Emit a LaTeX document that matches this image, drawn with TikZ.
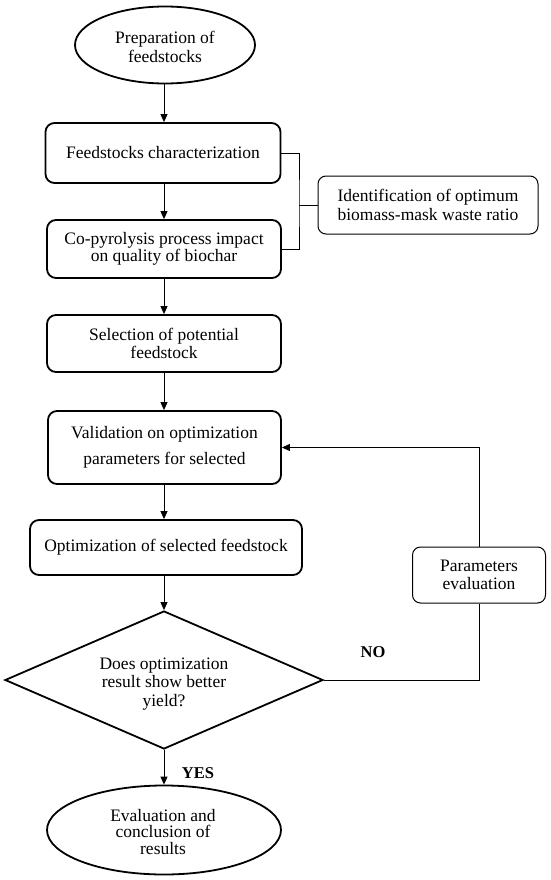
\documentclass[tikz,border=0pt]{standalone}
\usepackage{fontspec}
\setmainfont{Liberation Serif}
\usetikzlibrary{shapes.geometric,arrows.meta}
\begin{document}
\begin{tikzpicture}[x=1pt,y=-1pt,
  every node/.style={font=\fontsize{17.5}{18.5}\selectfont, align=center, inner sep=0pt},
  tight/.style={font=\fontsize{17.5}{16.5}\selectfont},
  wide/.style={font=\fontsize{17.5}{26}\selectfont},
  mainbox/.style={draw, line width=1.8pt, rounded corners=9pt, rectangle},
  sidebox/.style={draw, line width=1pt, rounded corners=8pt, rectangle},
  term/.style={draw, line width=1.8pt, ellipse},
  decide/.style={draw, line width=1.8pt, diamond, aspect=2.3},
  conn/.style={line width=0.9pt},
  arr/.style={conn, -{Triangle[length=8pt,width=7pt]}},
  lab/.style={font=\fontsize{16.5}{18}\selectfont\bfseries}]
\useasboundingbox (0,0) rectangle (550,880);
\node[term, minimum width=180pt, minimum height=77pt] (start) at (165,45) {};
\node at (165,47) {Preparation of\\feedstocks};
\node[mainbox, minimum width=235pt, minimum height=60pt] (char) at (163,153) {Feedstocks characterization};
\node[mainbox, tight, minimum width=234pt, minimum height=58pt] (copy) at (164,249) {Co-pyrolysis process impact\\on quality of biochar};
\node[sidebox, minimum width=220pt, minimum height=58pt] (ident) at (428,205) {Identification of optimum\\biomass-mask waste ratio};
\node[mainbox, minimum width=234pt, minimum height=57pt] (sel) at (164,343.5) {Selection of potential\\feedstock};
\node[mainbox, wide, minimum width=233pt, minimum height=73pt] (valid) at (164.5,447.5) {Validation on optimization\\parameters for selected};
\node[mainbox, minimum width=272pt, minimum height=55pt] (opt) at (166,547.5) {Optimization of selected feedstock};
\node[sidebox, minimum width=133pt, minimum height=56pt] (param) at (479,575) {Parameters\\evaluation};
\node[decide, minimum width=318pt, minimum height=138pt] (dec) at (164,680) {};
\node at (164,684) {Does optimization\\result show better\\yield?};
\node[term, minimum width=234pt, minimum height=89pt] (final) at (164,830) {};
\node[tight] at (163,832) {Evaluation and\\conclusion of\\results};
\node[lab] (no) at (373,652) {NO};
\node[lab] (yes) at (198,773) {YES};
\coordinate (brk) at (299,205);
\draw[arr] (start.south -| 164,0) -- (char.north -| 164,0);
\draw[arr] (char.south -| 164,0) -- (copy.north -| 164,0);
\draw[arr] (copy.south -| 164,0) -- (sel.north -| 164,0);
\draw[arr] (sel.south -| 164,0) -- (valid.north -| 164,0);
\draw[arr] (valid.south -| 164,0) -- (opt.north -| 164,0);
\draw[arr] (opt.south -| 164,0) -- (dec.north);
\draw[arr] (dec.south) -- (final.north);
\draw[conn] (char.east) -| (brk) |- (copy.east);
\draw[conn] (brk) -- (ident.west);
\draw[conn] (dec.east) -| (param.south);
\draw[arr] (param.north) |- (valid.east);
\end{tikzpicture}
\end{document}
